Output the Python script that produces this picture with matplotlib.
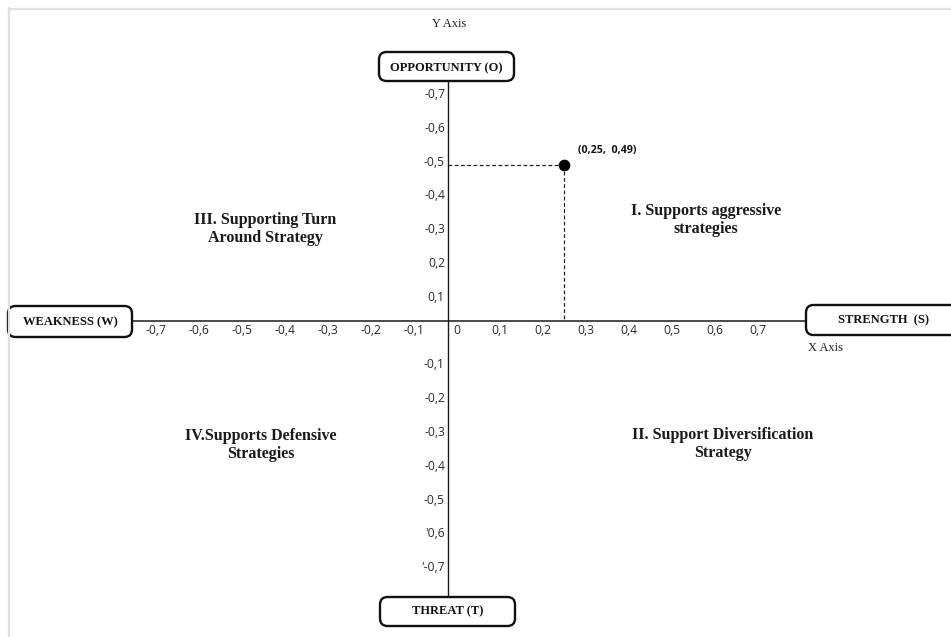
import matplotlib
matplotlib.use("Agg")
import matplotlib.pyplot as plt
from matplotlib.patches import FancyBboxPatch
from matplotlib.lines import Line2D

# ---------------- data ----------------
x_ticks = [-0.7, -0.6, -0.5, -0.4, -0.3, -0.2, -0.1, 0.0, 0.1, 0.2, 0.3, 0.4, 0.5, 0.6, 0.7]
x_tick_labels = ["-0,7", "-0,6", "-0,5", "-0,4", "-0,3", "-0,2", "-0,1", "0",
                 "0,1", "0,2", "0,3", "0,4", "0,5", "0,6", "0,7"]
y_ticks = [0.7, 0.6, 0.5, 0.4, 0.3, 0.2, 0.1, -0.1, -0.2, -0.3, -0.4, -0.5, -0.6, -0.7]
y_tick_labels = ["-0,7", "-0,6", "-0,5", "-0,4", "-0,3", "0,2", "0,1",
                 "-0,1", "-0,2", "-0,3", "-0,4", "-0,5", "'0,6", "'-0,7"]
point_x = [0.25]
point_y = [0.49]
point_label = "(0,25,  0,49)"

axis_names = ["WEAKNESS (W)", "STRENGTH  (S)", "OPPORTUNITY (O)", "THREAT (T)"]
quadrant_texts = ["I. Supports aggressive\nstrategies",
                  "II. Support Diversification\nStrategy",
                  "III. Supporting Turn\nAround Strategy",
                  "IV.Supports Defensive\nStrategies"]

# ---------------- layout (pixels) ----------------
W, H = 951, 637
OX, OY = 457, 331          # pixel of data origin
SX, SY = 430.0, 338.0      # pixels per data unit

fig = plt.figure(figsize=(W / 100, H / 100), dpi=100)
ax = fig.add_axes([0, 0, 1, 1])
ax.set_xlim(-OX / SX, (W - OX) / SX)
ax.set_ylim((OY - H) / SY, OY / SY)
ax.axis("off")


def dx(px):
    return (px - OX) / SX


def dy(py):
    return (OY - py) / SY


def ff(px, py):
    return px / W, 1 - py / H


SANS = ["Open Sans", "DejaVu Sans"]
SERIF = ["Liberation Serif", "DejaVu Serif"]

# light page border
fig.add_artist(Line2D([ff(8.5, 0)[0], ff(951, 0)[0]], [ff(0, 8.5)[1]] * 2,
                      transform=fig.transFigure, color="#e0e0e0", lw=1.6))
fig.add_artist(Line2D([ff(8.5, 0)[0]] * 2, [ff(0, 8)[1], ff(0, 637)[1]],
                      transform=fig.transFigure, color="#e0e0e0", lw=1.6))

# main axes lines
axis_x_line_y = dy(321)
axis_y_line_x = dx(448)
ax.plot([dx(130), dx(806)], [axis_x_line_y, axis_x_line_y], color="#1a1a1a", lw=1.1)
ax.plot([axis_y_line_x, axis_y_line_x], [dy(82), dy(596)], color="#1a1a1a", lw=1.0)

# tick labels
for v, lab in zip(x_ticks, x_tick_labels):
    ax.text(v, 0, lab, ha="center", va="center", fontsize=8.7,
            family=SANS, color="#2a2a2a")
for v, lab in zip(y_ticks, y_tick_labels):
    ax.text(dx(445), v, lab, ha="right", va="center", fontsize=8.7,
            family=SANS, color="#2a2a2a")

# point with dashed guides
ax.plot([axis_y_line_x, point_x[0]], [point_y[0], point_y[0]],
        color="#222222", lw=0.9, ls=(0, (3, 2)))
ax.plot([point_x[0], point_x[0]], [point_y[0], axis_x_line_y],
        color="#222222", lw=0.9, ls=(0, (3, 2)))
ax.scatter(point_x, point_y, s=55, color="black", zorder=5)
ax.annotate(point_label, (point_x[0], point_y[0]), xytext=(10, 11),
            textcoords="offset points", ha="left", va="center",
            fontsize=7.7, fontweight="bold", family=SANS, color="#111111")

# axis name boxes (pixel rectangles)
boxes = [(8, 306, 132, 337), (806, 305, 965, 335), (379, 52, 514, 81), (380, 597, 515, 626)]
text_centers = [(70, 322), (883, 320), (446, 68), (448, 611)]
for (x0, y0, x1, y1), name, (tx, ty) in zip(boxes, axis_names, text_centers):
    fx0, fy1 = ff(x0, y1)
    fx1, fy0 = ff(x1, y0)
    patch = FancyBboxPatch((fx0, fy1), fx1 - fx0, fy0 - fy1,
                           boxstyle="round,pad=0,rounding_size=0.008",
                           transform=fig.transFigure, facecolor="white",
                           edgecolor="#111111", lw=1.7, mutation_aspect=W / H)
    fig.add_artist(patch)
    fig.text(*ff(tx, ty), name, ha="center", va="center", fontsize=9,
             fontweight="bold", family=SERIF, color="#111111")

# axis captions
fig.text(*ff(449, 24), "Y Axis", ha="center", va="center", fontsize=9,
         family=SERIF, color="#222222")
fig.text(*ff(826, 348), "X Axis", ha="center", va="center", fontsize=9,
         family=SERIF, color="#222222")

# quadrant descriptions
q_pos = [(706, 220), (723, 444), (265, 229), (261, 445)]
for (qx, qy), txt in zip(q_pos, quadrant_texts):
    fig.text(*ff(qx, qy), txt, ha="center", va="center", fontsize=11.5,
             fontweight="bold", family=SERIF, color="#1a1a1a", linespacing=1.15)

fig.savefig("out.png", dpi=100)
